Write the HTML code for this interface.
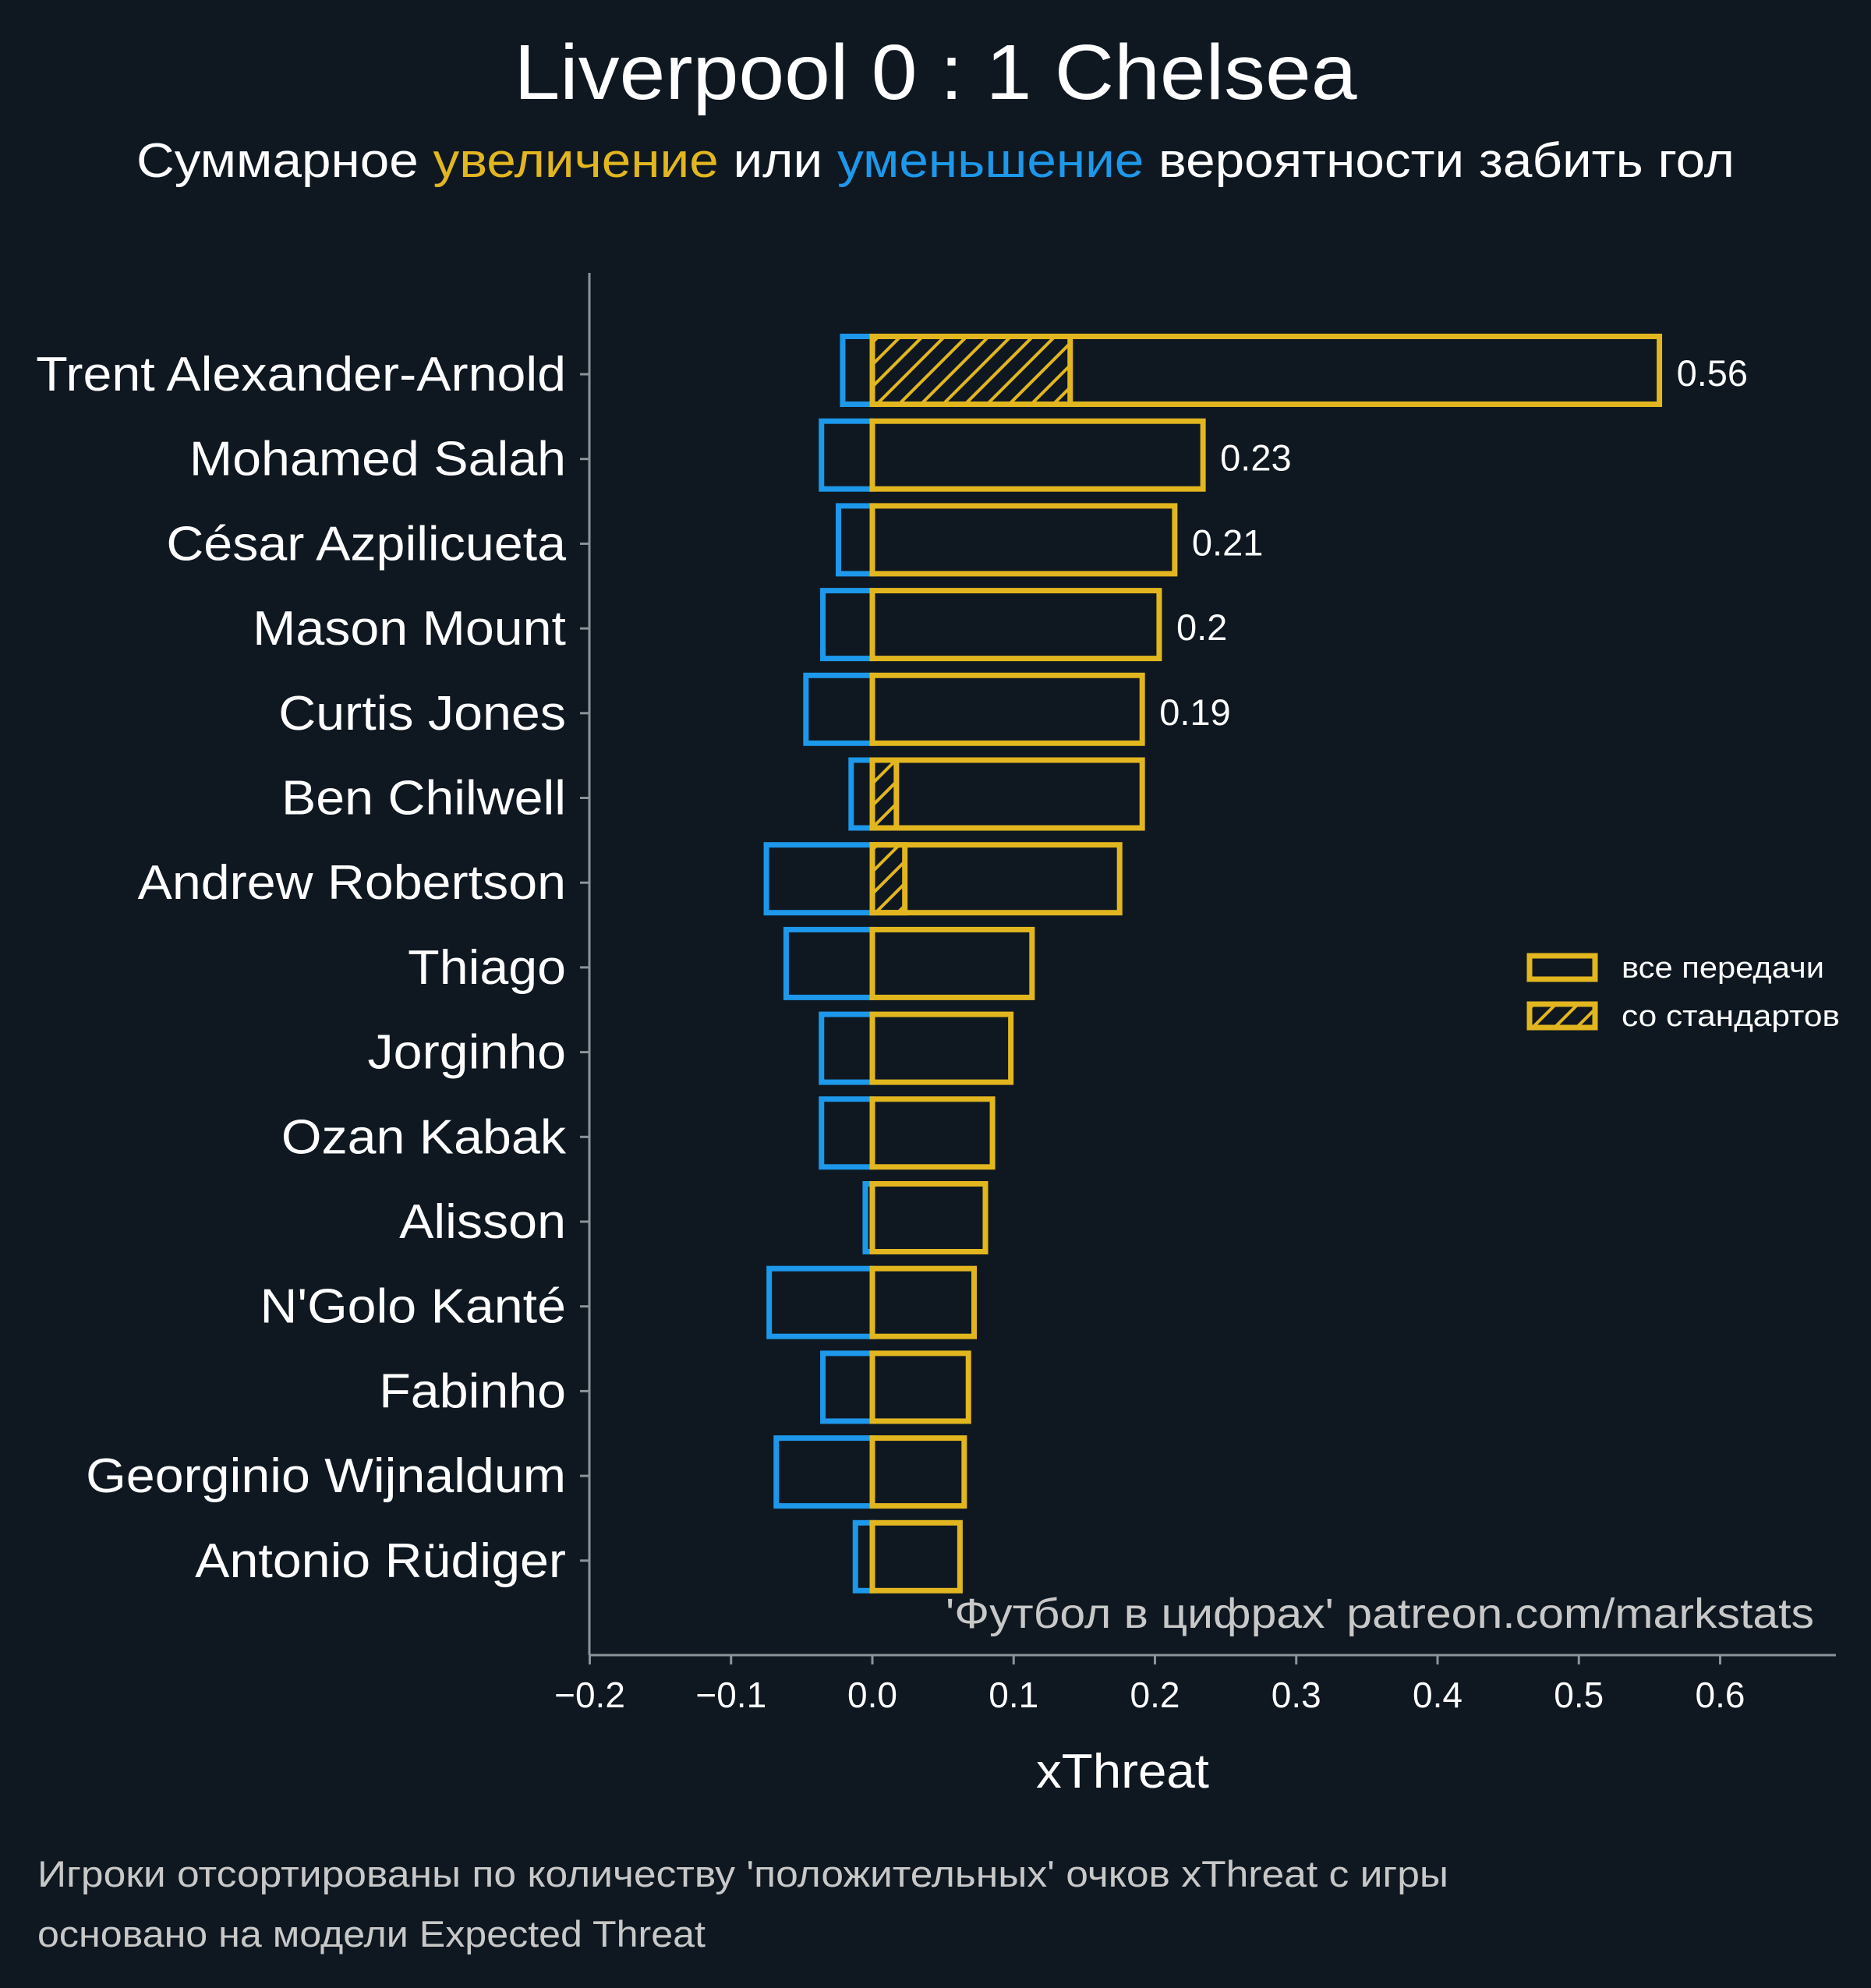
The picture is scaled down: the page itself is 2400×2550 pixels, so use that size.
<!DOCTYPE html>
<html><head><meta charset="utf-8"><style>
html,body{margin:0;padding:0;background:#0f1821;}
svg{display:block;font-family:"Liberation Sans","DejaVu Sans",sans-serif;}
</style></head><body>
<svg id="chart" width="2400" height="2550" viewBox="0 0 2400 2550" xmlns="http://www.w3.org/2000/svg">
<defs>
<pattern id="hatch" patternUnits="userSpaceOnUse" width="20" height="20" patternTransform="rotate(45)">
<rect width="20" height="20" fill="#0f1821"/>
<line x1="0" y1="0" x2="0" y2="20" stroke="#e2b61f" stroke-width="8"/>
</pattern>
</defs>
<rect width="2400" height="2550" fill="#0f1821"/>
<text x="1200" y="127" text-anchor="middle" fill="#fff" font-size="100" textLength="1081" lengthAdjust="spacingAndGlyphs">Liverpool 0 : 1 Chelsea</text>
<text x="1200" y="227" text-anchor="middle" fill="#fff" font-size="62" textLength="2050" lengthAdjust="spacingAndGlyphs">Суммарное <tspan fill="#e2b61f">увеличение</tspan> или <tspan fill="#1d98ea">уменьшение</tspan> вероятности забить гол</text>
<g id="plot"></g>
<g>
<rect x="1962" y="1226" width="84" height="30" fill="#0f1821" stroke="#e2b61f" stroke-width="7"/>
<text x="2080" y="1254" fill="#fff" font-size="38" textLength="260" lengthAdjust="spacingAndGlyphs">все передачи</text>
<rect x="1962" y="1288" width="84" height="30" fill="url(#hatch)" stroke="#e2b61f" stroke-width="7"/>
<text x="2080" y="1316" fill="#fff" font-size="38" textLength="280" lengthAdjust="spacingAndGlyphs">со стандартов</text>
</g>
<text x="2327" y="2088" text-anchor="end" fill="#c8c8c8" font-size="54" textLength="1114" lengthAdjust="spacingAndGlyphs">'Футбол в цифрах' patreon.com/markstats</text>
<text x="1440" y="2293" text-anchor="middle" fill="#fff" font-size="62" textLength="222" lengthAdjust="spacingAndGlyphs">xThreat</text>
<text x="48" y="2420" fill="#c8c8c8" font-size="47" textLength="1810" lengthAdjust="spacingAndGlyphs">Игроки отсортированы по количеству 'положительных' очков xThreat с игры</text>
<text x="48" y="2497" fill="#c8c8c8" font-size="47" textLength="857" lengthAdjust="spacingAndGlyphs">основано на модели Expected Threat</text>
</svg>
<script>
const players = ["Trent Alexander-Arnold","Mohamed Salah","César Azpilicueta","Mason Mount","Curtis Jones","Ben Chilwell","Andrew Robertson","Thiago","Jorginho","Ozan Kabak","Alisson","N'Golo Kanté","Fabinho","Georginio Wijnaldum","Antonio Rüdiger"];
const positive = [0.557,0.234,0.214,0.203,0.191,0.191,0.175,0.113,0.098,0.085,0.080,0.072,0.068,0.065,0.062];
const setPieces = [0.140,0,0,0,0,0.017,0.023,0,0,0,0,0,0,0,0];
const negative = [-0.021,-0.036,-0.024,-0.035,-0.047,-0.015,-0.075,-0.061,-0.036,-0.036,-0.005,-0.073,-0.035,-0.068,-0.012];
const valueLabels = ["0.56","0.23","0.21","0.2","0.19"];
const xTicks = [-0.2,-0.1,0.0,0.1,0.2,0.3,0.4,0.5,0.6];
const xTickLabels = ["−0.2","−0.1","0.0","0.1","0.2","0.3","0.4","0.5","0.6"];

const NS="http://www.w3.org/2000/svg";
const g=document.getElementById('plot');
const x=v=>1119+v*1812.5;
const y=i=>475+i*108.7;
const BH=87;
function mk(tag,attrs){const e=document.createElementNS(NS,tag);for(const k in attrs)e.setAttribute(k,attrs[k]);g.appendChild(e);return e;}

players.forEach((p,i)=>{
  const cy=y(i);
  const nb=mk('rect',{x:x(negative[i]),y:cy-BH/2,width:x(0)-x(negative[i]),height:BH,fill:'none',stroke:'#1d98ea','stroke-width':7});
  
  
  if(setPieces[i]>0){
    const sb=mk('rect',{x:x(0),y:cy-BH/2,width:x(setPieces[i])-x(0),height:BH,fill:'url(#hatch)',stroke:'#e2b61f','stroke-width':7});
    
    
  }
  const pb=mk('rect',{x:x(0),y:cy-BH/2,width:x(positive[i])-x(0),height:BH,fill:'none',stroke:'#e2b61f','stroke-width':7});
  
  
  const lab=mk('text',{x:726,y:cy+26,'text-anchor':'end',fill:'#fff','font-size':62});
  lab.textContent=p;
  
  
  const w=lab.getComputedTextLength();
  lab.setAttribute('textLength',(w*1.07).toFixed(1));
  lab.setAttribute('lengthAdjust','spacingAndGlyphs');
  const tk=mk('line',{x1:744,x2:756,y1:cy+5,y2:cy+5,stroke:'#8a9499','stroke-width':3});
  
  
  if(i<valueLabels.length){
    const vl=mk('text',{x:x(positive[i])+22,y:cy+20,fill:'#fff','font-size':47});
    vl.textContent=valueLabels[i];
    
    
  }
});
const ys=mk('line',{x1:756,x2:756,y1:350,y2:2123,stroke:'#8a9499','stroke-width':3});


const xs=mk('line',{x1:756,x2:2355,y1:2123,y2:2123,stroke:'#8a9499','stroke-width':3});


xTicks.forEach((t,i)=>{
  const tl=mk('line',{x1:x(t),x2:x(t),y1:2123,y2:2135,stroke:'#8a9499','stroke-width':3});
  
  
  const tt=mk('text',{x:x(t),y:2190,'text-anchor':'middle',fill:'#fff','font-size':46});
  tt.textContent=xTickLabels[i];
  
  
});
</script>
</body></html>
